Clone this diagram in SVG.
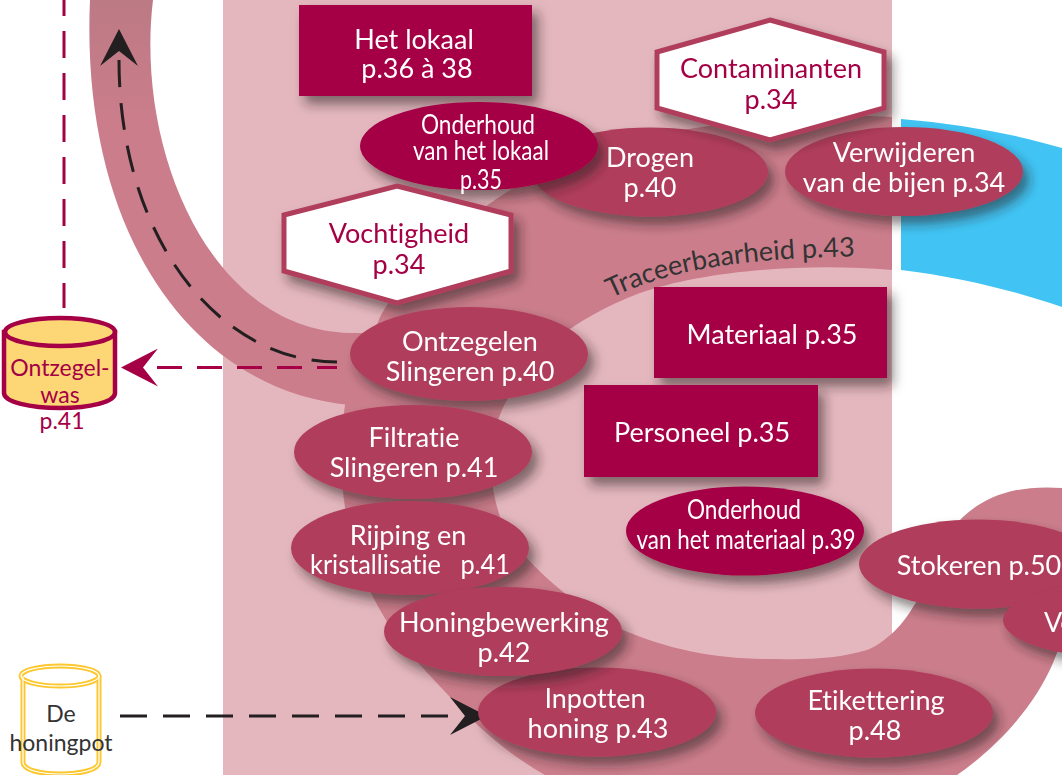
<svg xmlns="http://www.w3.org/2000/svg" xmlns:xlink="http://www.w3.org/1999/xlink" width="1062" height="775" viewBox="0 0 1062 775">
<style>
text{font-family:"Lato","Liberation Sans",sans-serif;text-anchor:middle;font-size:27px;font-variant-ligatures:none}
.w{fill:#fff}.m{fill:#a50045}.d{fill:#333}
.e{fill:#b03e5c}.k{fill:#a50045}
.hex{fill:#fff;stroke:#b03e5c;stroke-width:5}
.blk{fill:none;stroke:#231f20;stroke-width:3;stroke-dasharray:27 16}
.mar{fill:none;stroke:#a50045;stroke-width:3}
.n{filter:url(#s)}
</style>
<defs>
<filter id="s" x="-20%" y="-30%" width="150%" height="170%"><feDropShadow dx="6" dy="8" stdDeviation="6" flood-color="#2a1a20" flood-opacity="0.55"/></filter>
<linearGradient id="lb" x1="0" y1="0" x2="0" y2="1"><stop offset="0" stop-color="#bc7a84"/><stop offset="0.3" stop-color="#cb7d8b"/></linearGradient>
<marker id="ab" markerUnits="userSpaceOnUse" markerWidth="37" markerHeight="38" viewBox="0 0 37 38" refX="6" refY="19" orient="auto-start-reverse"><path d="M0 0L37 19L0 38L15 19Z" fill="#231f20"/></marker>
<marker id="am" markerUnits="userSpaceOnUse" markerWidth="37" markerHeight="38" viewBox="0 0 37 38" refX="1" refY="19" orient="auto"><path d="M0 0L37 19L0 38L15 19Z" fill="#a50045"/></marker>
<path id="tr" d="M611 298C685 262 775 258 868 256"/>
</defs>
<g id="background">
<rect x="223" y="0" width="669" height="775" fill="#e4b7be"/>
<path d="M901 119C960 124 1015 134 1062 148L1062 307C1015 291 960 277 901 270Z" fill="#41c4f4"/>
<path d="M90 0C80 230 190 390 350 405L400 405L400 333L350 333C210 330 135 150 153 0Z" fill="url(#lb)"/>
<path d="M892 117C780 110 600 130 510 190C440 235 400 280 380 317L345 405C335 470 345 545 373 597C395 640 420 665 450 697C480 730 510 755 545 775L957 775C1000 745 1035 705 1053 663L1062 640L1062 488C1010 484 980 500 960 520C935 545 930 585 913 607C900 630 880 645 867 650C840 658 810 660 777 659C720 660 670 650 623 630C570 605 510 550 500 517C485 470 490 430 507 400C530 355 570 320 640 293C700 272 800 262 892 270Z" fill="#cb7d8b"/>
<text class="d" style="font-size:27px;text-anchor:start"><textPath href="#tr" xlink:href="#tr">Traceerbaarheid p.43</textPath></text>
</g>
<g id="connectors">
<path class="mar" d="M64 0L64 308" stroke-dasharray="27 15" stroke-dashoffset="11"/>
<path class="blk" d="M119 60C119 240 220 362 337 362" marker-start="url(#ab)"/>
<path class="mar" d="M337 367.5L157 367.5" stroke-dasharray="25 15" stroke-dashoffset="5" marker-end="url(#am)"/>
<path class="blk" d="M120 716L456 716" marker-end="url(#ab)"/>
</g>
<g id="het-lokaal" class="n"><rect class="k" x="299" y="5" width="233" height="91"/><text class="w" x="414" y="49">Het lokaal</text><text class="w" x="417" y="78">p.36 à 38</text></g>
<g id="drogen" class="n"><ellipse class="e" cx="650" cy="172" rx="118" ry="44.5"/><text class="w" x="650" y="167">Drogen</text><text class="w" x="650" y="197">p.40</text></g>
<g id="verwijderen" class="n"><ellipse class="e" cx="904" cy="171.5" rx="119" ry="44.5"/><text class="w" x="904" y="162">Verwijderen</text><text class="w" x="904" y="192">van de bijen p.34</text></g>
<g id="contaminanten" class="n"><polygon class="hex" points="770,20 884,52 884,108 770,140 657,108 657,52"/><text class="m" x="771" y="78">Contaminanten</text><text class="m" x="771" y="109">p.34</text></g>
<g id="onderhoud-lokaal" class="n"><ellipse class="k" cx="479" cy="146" rx="119" ry="44"/><text class="w" x="478" y="134" textLength="114" lengthAdjust="spacingAndGlyphs">Onderhoud</text><text class="w" x="481" y="160" textLength="136" lengthAdjust="spacingAndGlyphs">van het lokaal</text><text class="w" x="481" y="189" textLength="42" lengthAdjust="spacingAndGlyphs">p.35</text></g>
<g id="vochtigheid" class="n"><polygon class="hex" points="397,186 511,215 511,271 397,303 284,271 284,215"/><text class="m" x="399" y="243">Vochtigheid</text><text class="m" x="399" y="274">p.34</text></g>
<g id="materiaal" class="n"><rect class="k" x="654" y="287" width="233" height="91"/><text class="w" x="772" y="344">Materiaal p.35</text></g>
<g id="personeel" class="n"><rect class="k" x="584" y="385" width="234" height="92"/><text class="w" x="702" y="442">Personeel p.35</text></g>
<g id="ontzegelen" class="n"><ellipse class="e" cx="469" cy="354" rx="119" ry="47"/><text class="w" x="470" y="351">Ontzegelen</text><text class="w" x="470" y="381">Slingeren p.40</text></g>
<g id="filtratie" class="n"><ellipse class="e" cx="413" cy="452" rx="119" ry="47"/><text class="w" x="414" y="447">Filtratie</text><text class="w" x="414" y="477">Slingeren p.41</text></g>
<g id="rijping" class="n"><ellipse class="e" cx="410" cy="548" rx="119" ry="47"/><text class="w" x="408" y="545">Rijping en</text><text class="w" x="410" y="574" xml:space="preserve" textLength="200" lengthAdjust="spacingAndGlyphs">kristallisatie   p.41</text></g>
<g id="inpotten" class="n"><ellipse class="e" cx="597" cy="712" rx="119" ry="44.5"/><text class="w" x="595" y="708">Inpotten</text><text class="w" x="598" y="738">honing p.43</text></g>
<g id="honingbewerking" class="n"><ellipse class="e" cx="503" cy="631.5" rx="119" ry="44.5"/><text class="w" x="504" y="632">Honingbewerking</text><text class="w" x="504" y="662">p.42</text></g>
<g id="onderhoud-materiaal" class="n"><ellipse class="k" cx="745" cy="531" rx="119" ry="44.5"/><text class="w" x="744" y="519" textLength="114" lengthAdjust="spacingAndGlyphs">Onderhoud</text><text class="w" x="746" y="549" textLength="219" lengthAdjust="spacingAndGlyphs">van het materiaal p.39</text></g>
<g id="etikettering" class="n"><ellipse class="e" cx="874" cy="713" rx="119" ry="44.5"/><text class="w" x="876" y="710">Etikettering</text><text class="w" x="875" y="740">p.48</text></g>
<g id="stokeren" class="n"><ellipse class="e" cx="978" cy="564" rx="119" ry="44.5"/><text class="w" x="979" y="575">Stokeren p.50</text></g>
<g id="v-node" class="n"><ellipse class="e" cx="1122" cy="620" rx="119" ry="38"/><text class="w" x="1044" y="632" style="text-anchor:start">Ve</text></g>
<g id="ontzegelwas">
<path d="M4 332L4 393C4 402 30 408 60 408C90 408 115 402 115 393L115 332Z" fill="#fdd776" stroke="#a50045" stroke-width="4.5"/>
<ellipse cx="60" cy="332" rx="55" ry="14" fill="#fdd776" stroke="#a50045" stroke-width="4.5"/>
<text class="m" x="60" y="376" style="font-size:23px">Ontzegel-</text><text class="m" x="60" y="403" style="font-size:23px">was</text><text class="m" x="62" y="429" style="font-size:23px">p.41</text>
</g>
<g id="honingpot">
<path d="M23 676L23 762C23 770 40 774 60 774C80 774 99 770 99 762L99 676" fill="#fff" stroke="#fdc82f" stroke-width="5"/>
<ellipse cx="60" cy="676" rx="39" ry="10" fill="#fff" stroke="#fdc82f" stroke-width="5"/>
<path d="M23 676L23 762C23 770 40 774 60 774C80 774 99 770 99 762L99 676" fill="none" stroke="#fff" stroke-width="1.2"/>
<ellipse cx="60" cy="676" rx="39" ry="10" fill="none" stroke="#fff" stroke-width="1.2"/>
<text class="d" x="61" y="722" style="font-size:23px">De</text><text class="d" x="61" y="751" style="font-size:23px">honingpot</text>
</g>
</svg>
